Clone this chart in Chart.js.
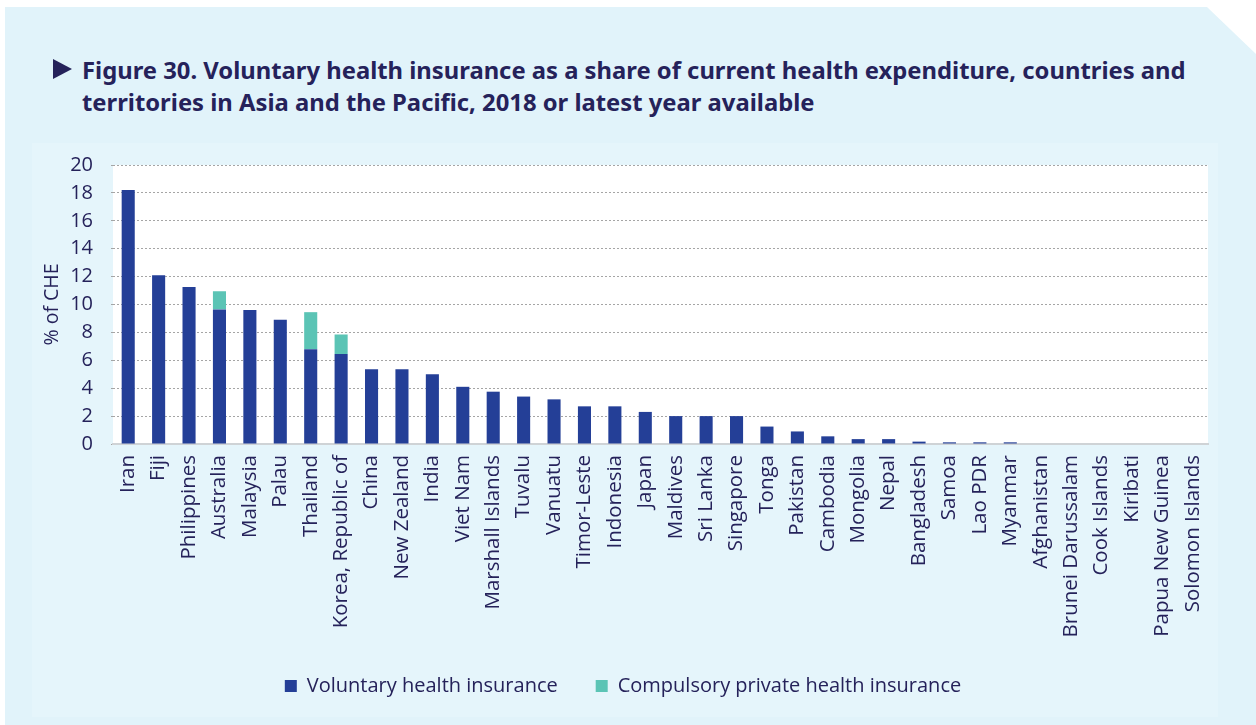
<!DOCTYPE html>
<html>
<head>
<meta charset="utf-8">
<script src="https://cdn.jsdelivr.net/npm/chart.js@4.4.1/dist/chart.umd.min.js"></script>
<style>
	html, body { margin: 0; padding: 0; background: #ffffff; }
	body { width: 1256px; height: 725px; position: relative; overflow: hidden; }
	.card {
		position: absolute; left: 5px; top: 7px; width: 1251px; height: 718px;
		background: #e1f3fa;
		clip-path: polygon(0 0, 1202px 0, 1251px 47px, 1251px 718px, 0 718px);
	}
	.panel {
		position: absolute; left: 32px; top: 143px; width: 1186px; height: 574px;
		background: #e5f5fb;
	}
	.title {
		position: absolute; left: 82px; top: 54px; width: 1140px;
		font-family: "Noto Sans", sans-serif; font-weight: 700; font-size: 23.8px;
		line-height: 32px; color: #25225a;
	}
	.arrow {
		position: absolute; left: 53px; top: 59px; width: 0; height: 0;
		border-top: 10px solid transparent; border-bottom: 10px solid transparent;
		border-left: 19px solid #25225a;
	}
	#chartBox { position: absolute; left: 0; top: 0; width: 1256px; height: 725px; }
</style>
</head>
<body>
<div class="card"></div>
<div class="panel"></div>
<div class="arrow"></div>
<div class="title">Figure 30. Voluntary health insurance as a share of current health expenditure, countries and territories in Asia and the Pacific, 2018 or latest year available</div>
<div id="chartBox"><canvas id="barChart"></canvas></div>
<script>
const countries = ['Iran', 'Fiji', 'Philippines', 'Australia', 'Malaysia', 'Palau', 'Thailand', 'Korea, Republic of',
	'China', 'New Zealand', 'India', 'Viet Nam', 'Marshall Islands', 'Tuvalu', 'Vanuatu', 'Timor-Leste', 'Indonesia',
	'Japan', 'Maldives', 'Sri Lanka', 'Singapore', 'Tonga', 'Pakistan', 'Cambodia', 'Mongolia', 'Nepal', 'Bangladesh',
	'Samoa', 'Lao PDR', 'Myanmar', 'Afghanistan', 'Brunei Darussalam', 'Cook Islands', 'Kiribati', 'Papua New Guinea',
	'Solomon Islands'];
const voluntary = [18.2, 12.1, 11.25, 9.65, 9.6, 8.9, 6.8, 6.45, 5.35, 5.35, 5.0, 4.1, 3.75, 3.4, 3.2, 2.7, 2.7,
	2.3, 2.0, 2.0, 2.0, 1.25, 0.9, 0.55, 0.35, 0.35, 0.17, 0.12, 0.12, 0.12, 0, 0, 0, 0, 0, 0];
const compulsory = [0, 0, 0, 1.3, 0, 0, 2.65, 1.4, 0, 0, 0, 0, 0, 0, 0, 0, 0, 0, 0, 0, 0, 0, 0, 0, 0, 0, 0,
	0, 0, 0, 0, 0, 0, 0, 0, 0];
const yTicks = [0, 2, 4, 6, 8, 10, 12, 14, 16, 18, 20];

const textColor = '#25225a';
const fontFamily = '"Open Sans", "Noto Sans", sans-serif';

const plotBackground = {
	id: 'plotBackground',
	beforeDraw(chart) {
		const { ctx, chartArea } = chart;
		ctx.save();
		ctx.fillStyle = '#ffffff';
		ctx.fillRect(chartArea.left, chartArea.top, chartArea.right - chartArea.left, chartArea.bottom - chartArea.top);
		ctx.restore();
	}
};

document.addEventListener('DOMContentLoaded', function () {
	const ctx = document.getElementById('barChart').getContext('2d');
	new Chart(ctx, {
		type: 'bar',
		data: {
			labels: countries,
			datasets: [{
				label: 'Voluntary health insurance',
				data: voluntary,
				backgroundColor: '#243f97',
				barPercentage: 0.43,
				categoryPercentage: 1.0
			}, {
				label: 'Compulsory private health insurance',
				data: compulsory,
				backgroundColor: '#5bc4b5',
				barPercentage: 0.43,
				categoryPercentage: 1.0
			}]
		},
		plugins: [plotBackground],
		options: {
			responsive: true,
			maintainAspectRatio: false,
			animation: false,
			layout: { padding: { left: 38, right: 48, top: 165, bottom: 19 } },
			scales: {
				x: {
					stacked: true,
					grid: { display: false },
					border: { color: '#cfd3d6', width: 2 },
					ticks: {
						color: textColor, padding: 3,
						font: { family: fontFamily, size: 20.5 },
						maxRotation: 90, minRotation: 90, autoSkip: false
					},
					afterFit(scale) { scale.height = 194; }
				},
				y: {
					stacked: true,
					min: 0, max: 20,
					afterBuildTicks(scale) { scale.ticks = yTicks.map(v => ({ value: v })); },
					grid: { color: '#a5a5a5', lineWidth: 1, tickLength: 2 },
					border: { display: false, dash: [2, 2] },
					ticks: {
						color: textColor, padding: 18,
						font: { family: fontFamily, size: 20 }
					},
					title: {
						display: true, text: '% of CHE', color: textColor, padding: 3,
						font: { family: fontFamily, size: 19.5 }
					},
					afterFit(scale) { scale.width = 75; }
				}
			},
			plugins: {
				legend: {
					position: 'bottom',
					labels: {
						color: textColor, boxWidth: 12, boxHeight: 12, padding: 38,
						font: { family: fontFamily, size: 20 }
					}
				},
				tooltip: { enabled: false }
			}
		}
	});
});
</script>
</body>
</html>
